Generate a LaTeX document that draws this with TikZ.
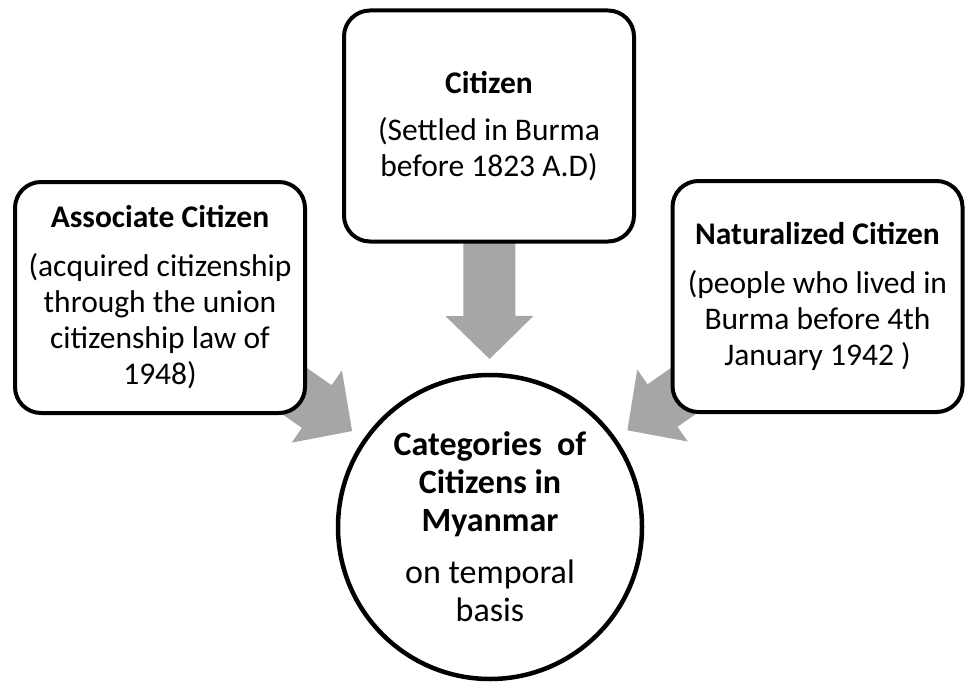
\documentclass[tikz,border=0pt]{standalone}
\usepackage{fontspec}
\setmainfont{Carlito}
\usetikzlibrary{calc,backgrounds}
\definecolor{feedgray}{HTML}{A6A6A6}
\begin{document}
\begin{tikzpicture}[x=1pt,y=-1pt,
  txt/.style={font=\fontsize{31.5}{36}\selectfont},
  catbox/.style={txt, draw=black, line width=4pt, rounded corners=26pt, fill=white,
    minimum width=290pt, minimum height=231pt, align=center, inner sep=0pt},
  hub/.style={font=\fontsize{34}{38}\selectfont, circle, draw=black, line width=4.5pt,
    fill=white, minimum size=304pt, inner sep=0pt, align=center},
  blockarrow/.style={fill=feedgray}
]
\useasboundingbox (0,0) rectangle (966,682);

% the three categories
\node[catbox] (citizen) at (489,126)
  {\textbf{Citizen}\\[11pt](Settled in Burma\\before 1823 A.D)};
\node[catbox] (assoc) at (160,297.5)
  {\textbf{Associate Citizen}\\[13pt](acquired citizenship\\through the union\\citizenship law of\\1948)};
\node[catbox] (natur) at (817.5,296.5)
  {\textbf{Naturalized Citizen}\\[13pt](people who lived in\\Burma before 4th\\January 1942 )};

% central circle
\node[hub] (hub) at (490,527)
  {\textbf{Categories~ of}\\\textbf{Citizens in}\\\textbf{Myanmar}\\[14pt]on temporal\\basis};

% block arrows from each box towards the circle, behind the boxes
\begin{scope}[on background layer]
  \foreach \src in {citizen,assoc,natur}{
    \coordinate (\src-tip)  at ($(hub.center)!168pt!(\src.center)$);
    \coordinate (\src-base) at ($(hub.center)!211pt!(\src.center)$);
    \path[blockarrow] (\src-tip)
      -- ($(\src-base)!44pt!90:(hub.center)$)
      -- ($(\src-base)!26pt!90:(hub.center)$)
      -- ($(\src.center)!26pt!90:(hub.center)$)
      -- ($(\src.center)!26pt!-90:(hub.center)$)
      -- ($(\src-base)!26pt!-90:(hub.center)$)
      -- ($(\src-base)!44pt!-90:(hub.center)$)
      -- cycle;
  }
\end{scope}
\end{tikzpicture}
\end{document}
